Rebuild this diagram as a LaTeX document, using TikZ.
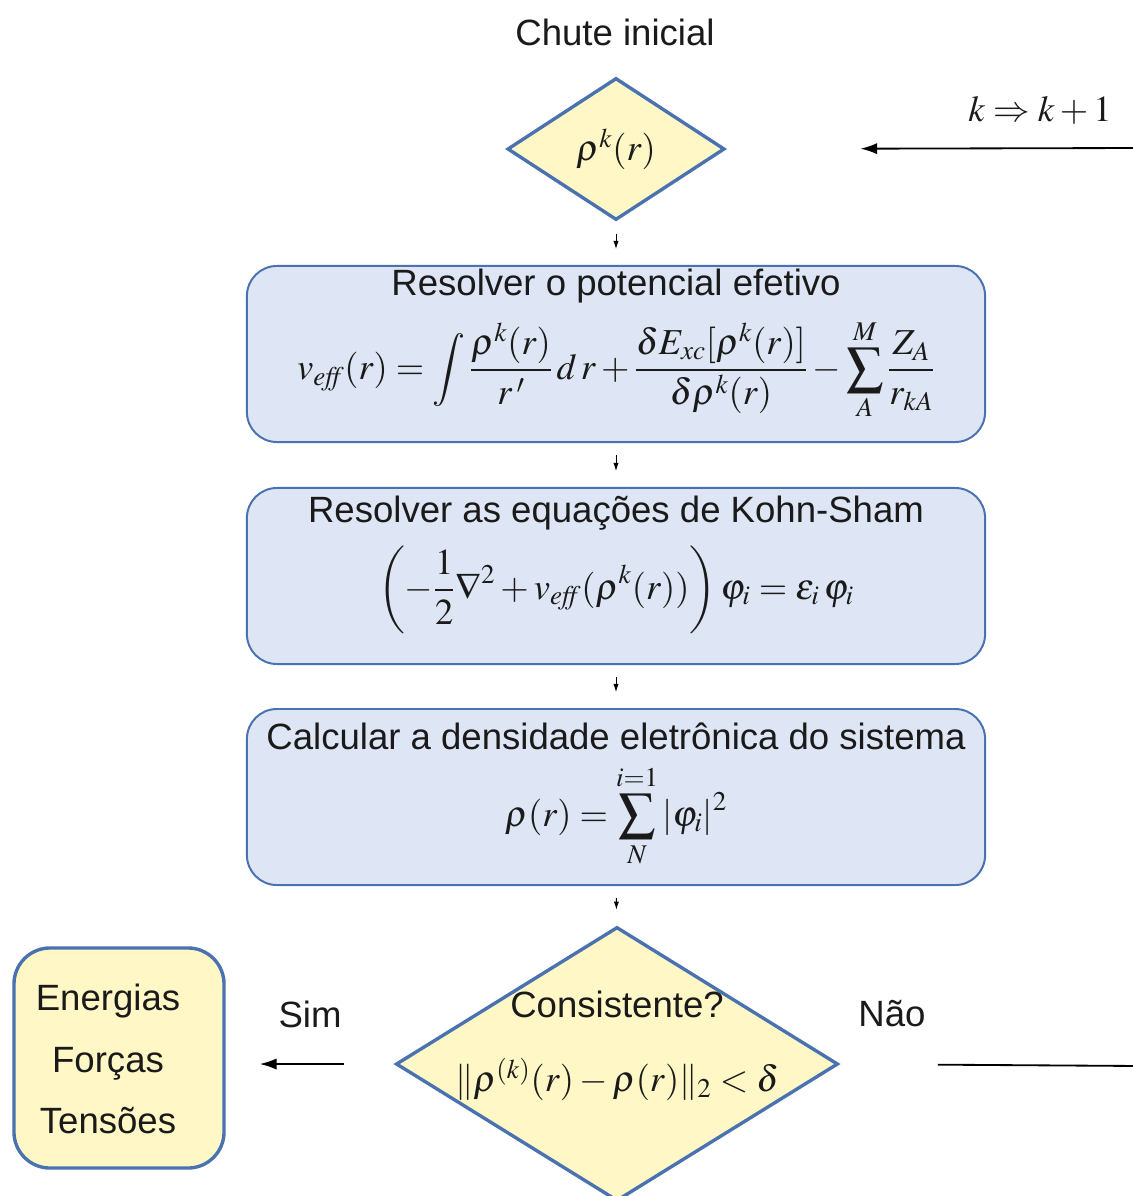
\documentclass[tikz,border=0pt]{standalone}
\usepackage{mathptmx}
\usepackage{fontspec}
\setmainfont{Liberation Sans}
\usetikzlibrary{arrows.meta,shapes.geometric}
\definecolor{Edge}{HTML}{4A72B0}
\definecolor{BoxBlue}{HTML}{DEE6F5}
\definecolor{BoxYellow}{HTML}{FFF8C6}
\definecolor{Ink}{HTML}{1A1A1A}

\begin{document}
\begin{tikzpicture}[x=0.025cm,y=-0.025cm,text=Ink,font=\fontsize{26}{31}\selectfont,
  stepbox/.style={draw=Edge,line width=1.4pt,fill=BoxBlue,rounded corners=0.75cm,minimum width=18.45cm,minimum height=4.4cm,inner sep=0pt},
  decide/.style={draw=Edge,line width=2.4pt,fill=BoxYellow,diamond,inner sep=0pt},
  tinyarrow/.style={-{Latex[length=0.2cm,width=0.13cm]},line width=0.6pt,shorten <=0.3cm,shorten >=0.4cm},
  looparrow/.style={-{Latex[length=0.42cm,width=0.28cm]},line width=1.3pt}]
\useasboundingbox[fill=white] (0,0) rectangle (1132,1196);
% start
\node (chute) at (615,32) {Chute inicial};
\node[decide,minimum width=5.43cm,minimum height=3.55cm] (rho) at (616,149) {$\rho^k(r)$};
\coordinate (rightK) at (1140,148);
\node (kstep) at (1040,110) {$k\Rightarrow k+1$};
% the three steps
\node[stepbox] (pot) at (616,354) {};
\node[align=center] (potTxt) at (616,345) {Resolver o potencial efetivo\\[10pt]
  $\displaystyle v_{\mathit{eff}}(r)=\int\frac{\rho^k(r)}{r\,'}\,d\,r+\frac{\delta E_{xc}[\rho^k(r)]}{\delta\rho^k(r)}-\sum\limits_{A}^{M}\frac{Z_A}{r_{kA}}$};
\node[stepbox] (ks) at (616,576) {};
\node[align=center] (ksTxt) at (616,565) {Resolver as equações de Kohn-Sham\\[10pt]
  $\displaystyle \left(-\frac{1}{2}\nabla^2+v_{\mathit{eff}}(\rho^k(r))\right)\varphi_i=\varepsilon_i\,\varphi_i$};
\node[stepbox] (dens) at (616,797) {};
\node[align=center] (densTxt) at (616,795) {Calcular a densidade eletrônica do sistema\\[10pt]
  $\displaystyle \rho(r)=\sum\limits_{N}^{i=1}|\varphi_i|^2$};
% test
\node[decide,minimum width=11.05cm,minimum height=6.85cm] (cons) at (617,1064) {};
\node[align=center] (consTxt) at (617,1046) {Consistente?\\[22pt]
  $\|\rho^{(k)}(r)-\rho(r)\|_2<\delta$};
\node[draw=Edge,line width=2.4pt,fill=BoxYellow,rounded corners=0.9cm,minimum width=5.25cm,minimum height=5.5cm] (out) at (119,1058) {};
\node[align=center,font=\fontsize{26}{44}\selectfont] (outTxt) at (108,1059) {Energias\\Forças\\Tensões};
\node (sim) at (310,1014) {Sim};
\node (nao) at (892,1014) {Não};
\coordinate (rightN) at (1140,1066);
% arrows
\draw[tinyarrow] (rho) -- (pot);
\draw[tinyarrow] (pot) -- (ks);
\draw[tinyarrow] (ks) -- (dens);
\draw[tinyarrow] (dens) -- (cons);
\draw[looparrow,shorten <=1.25cm,shorten >=0.85cm] (cons.west) -- (cons.west -| out.east);
\draw[line width=1.3pt,shorten <=2.45cm] (cons.east) -- (rightN);
\draw[looparrow,shorten >=3.35cm] (rightK) -- (rho.east);
\end{tikzpicture}
\end{document}
